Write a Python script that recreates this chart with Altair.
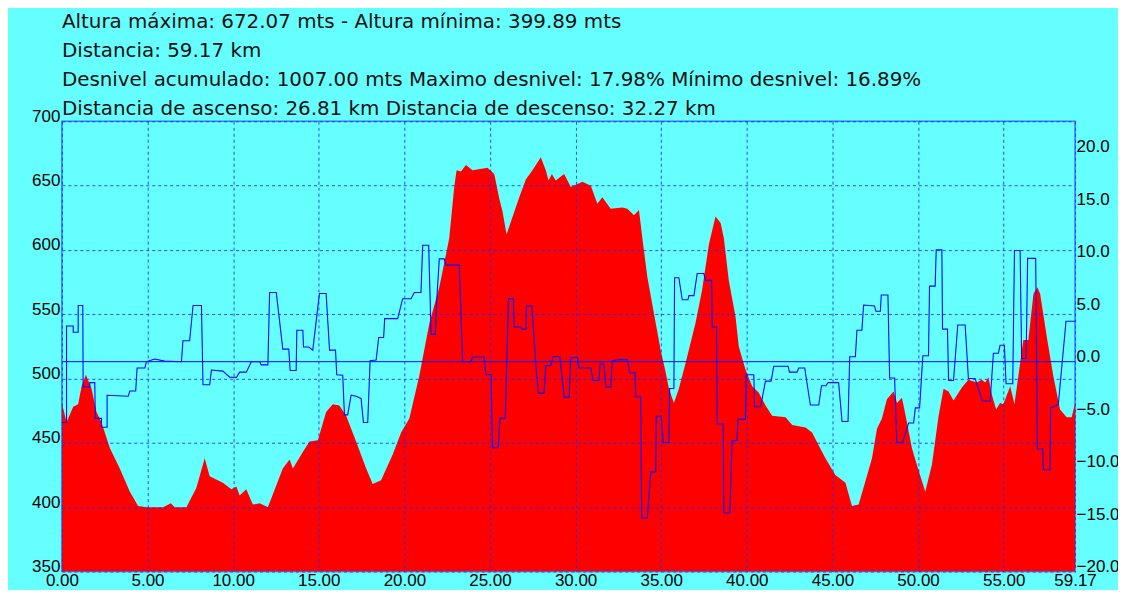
import altair as alt
import pandas as pd

# ---------------- data ----------------
header_lines = [
    "Altura máxima: 672.07 mts - Altura mínima: 399.89 mts",
    "Distancia: 59.17 km",
    "Desnivel acumulado: 1007.00 mts Maximo desnivel: 17.98% Mínimo desnivel: 16.89%",
    "Distancia de ascenso: 26.81 km Distancia de descenso: 32.27 km",
]

elev_km = [0, 0.27, 0.66, 0.95, 1.15, 1.4, 1.73, 2.02, 2.31, 2.8, 3.38, 3.97, 4.45, 4.94,
           5.91, 6.36, 6.59, 7.27, 7.85, 8.34, 8.63, 9.4, 9.9, 10.19, 10.38, 10.77, 11.15,
           11.55, 12.03, 12.9, 13.3, 13.49, 14.07, 14.46, 14.95, 15.43, 15.82, 16.2, 16.6,
           17.18, 17.77, 18.15, 18.64, 19.32, 19.81, 20.29, 20.87, 21.46, 22.04, 22.62,
           22.92, 23.05, 23.3, 23.6, 23.98, 24.86, 25.25, 25.54, 25.73, 25.97, 26.22, 26.71,
           27.1, 27.48, 27.97, 28.26, 28.42, 28.61, 28.84, 29.33, 29.72, 30.4, 30.89, 31.27,
           31.56, 32.05, 32.73, 33.02, 33.41, 33.7, 33.9, 34.19, 34.68, 34.97, 35.26, 35.45,
           35.74, 36.03, 36.42, 37.0, 37.39, 37.78, 38.17, 38.47, 38.66, 38.95, 39.34, 39.53,
           39.92, 40.31, 40.7, 41.09, 41.48, 42.26, 42.65, 43.43, 43.81, 44.2, 44.59, 45.17,
           45.76, 46.14, 46.53, 46.92, 47.31, 47.6, 47.89, 48.18, 48.57, 48.77, 49.06, 49.35,
           49.64, 49.93, 50.42, 50.81, 51.2, 51.49, 51.78, 52.07, 52.56, 52.94, 53.43, 53.72,
           53.92, 54.11, 54.3, 54.56, 54.79, 54.98, 55.38, 55.63, 55.96, 56.15, 56.44, 56.74,
           56.97, 57.13, 57.51, 57.9, 58.29, 58.68, 58.97, 59.17]
elev_m = [481, 466, 478, 480, 494, 503, 492, 474, 466, 446, 430, 412, 401, 400,
          400, 403, 400, 400, 415, 438, 424, 419, 414, 416, 409, 414, 402,
          403, 400, 430, 437, 430, 443, 451, 452, 474, 480, 479, 471,
          451, 430, 418, 421, 441, 458, 469, 502, 543, 571, 609,
          650, 662, 661, 666, 662, 664, 659, 640, 630, 612, 622, 641,
          655, 662, 672, 662, 654, 659, 654, 659, 649, 653, 650, 636,
          641, 632, 633, 632, 627, 631, 609, 579, 543, 522, 505, 492,
          481, 492, 512, 543, 569, 604, 626, 621, 609, 576, 548, 525,
          507, 494, 489, 479, 471, 470, 464, 462, 458, 448, 438, 425,
          419, 401, 402, 420, 438, 461, 469, 484, 490, 481, 485, 466,
          446, 433, 412, 433, 471, 492, 490, 483, 493, 499, 497, 499,
          497, 501, 488, 476, 481, 480, 494, 480, 512, 530, 530, 566,
          571, 566, 533, 502, 476, 470, 470, 481]

grad_km = [0, 0.27, 0.27, 0.66, 0.66, 0.95, 0.95, 1.22, 1.24, 1.63, 1.63, 1.92, 1.95, 2.31,
           2.31, 2.64, 2.64, 3.87, 3.97, 4.31, 4.39, 4.84, 4.94, 5.42, 6.0, 6.98, 7.07, 7.46,
           7.66, 8.15, 8.24, 8.63, 8.73, 9.4, 9.8, 10.19, 10.38, 10.77, 11.06, 11.55, 11.64,
           12.03, 12.13, 12.52, 12.9, 13.25, 13.33, 13.68, 13.72, 14.07, 14.11, 14.42, 14.65,
           15.04, 15.43, 15.63, 15.98, 16.05, 16.4, 16.5, 16.69, 16.89, 17.18, 17.47, 17.61,
           17.86, 18.0, 18.35, 18.5, 18.79, 18.85, 19.61, 19.9, 20.39, 20.58, 20.97, 21.07,
           21.42, 21.56, 21.81, 21.9, 22.04, 22.33, 22.43, 23.21, 23.4, 23.89, 23.98, 24.66,
           24.76, 25.06, 25.15, 25.48, 25.58, 25.89, 26.08, 26.37, 26.41, 26.8, 26.86, 27.1,
           27.13, 27.45, 27.68, 27.83, 28.16, 28.26, 28.55, 28.69, 29.08, 29.33, 29.62, 29.72,
           30.11, 30.2, 30.89, 31.02, 31.37, 31.43, 31.66, 31.76, 32.05, 32.15, 32.54, 33.02,
           33.16, 33.47, 33.51, 33.8, 33.86, 34.19, 34.39, 34.68, 34.71, 35.0, 35.12, 35.45,
           35.49, 35.74, 35.78, 36.03, 36.23, 36.56, 36.62, 36.91, 37.1, 37.49, 37.59, 37.94,
           37.98, 38.23, 38.27, 38.62, 38.66, 39.01, 39.14, 39.43, 39.48, 39.92, 39.96, 40.41,
           40.45, 40.8, 41.09, 41.42, 41.57, 42.41, 42.49, 42.93, 43.03, 43.38, 43.71, 44.2,
           44.36, 44.62, 44.74, 45.36, 45.56, 45.91, 46.01, 46.34, 46.43, 46.72, 46.82, 47.46,
           47.54, 47.8, 47.85, 48.24, 48.34, 48.63, 48.76, 49.1, 49.45, 49.74, 49.84, 50.09,
           50.28, 50.61, 50.67, 51.0, 51.06, 51.39, 51.43, 51.72, 51.78, 52.07, 52.32, 52.75,
           52.94, 53.33, 53.76, 54.21, 54.4, 54.69, 54.79, 55.04, 55.14, 55.53, 55.63, 55.96,
           56.05, 56.31, 56.4, 56.87, 56.97, 57.28, 57.32, 57.71, 57.74, 58.19, 58.64, 59.17]
grad_pct = [-5.8, -5.8, 3.4, 3.4, 2.8, 2.8, 5.35, 5.35, -2.4, -2.4, -2.0, -2.0, -5.4, -5.4,
            -6.25, -6.25, -3.2, -3.3, -2.8, -2.8, -0.6, -0.6, 0, 0.25, 0.05, 0, 2.0, 2.0,
            5.35, 5.35, -2.2, -2.2, -0.8, -0.9, -1.47, -1.5, -1.0, -1.0, 0, 0, -0.3,
            -0.3, 6.6, 6.6, 1.2, 1.2, -0.84, -0.84, 3.0, 3.0, 1.4, 1.4, 1.1,
            6.5, 6.5, 1.1, 1.1, -1.25, -1.3, -5.07, -5.07, -3.2, -3.3, -3.5, -5.8,
            -5.8, 0.1, 0.15, 2.3, 2.3, 4.1, 4.1, 6.0, 6.0, 6.6, 6.6, 11.1,
            11.1, 2.6, 2.6, 6.1, 9.8, 9.8, 9.2, 9.2, 0, 0, 0.45, 0.45,
            -1.25, -1.25, -8.2, -8.2, -5.4, -5.4, 6.0, 6.0, 3.3, 3.3, 3.1, 3.1,
            5.3, 5.3, -0.38, -3.0, -3.0, -0.38, -0.38, 0.5, 0.5, -3.4, -3.4, 0.4,
            0.4, -0.6, -0.6, -1.8, -1.8, -0.22, -0.22, -2.4, -2.4, 0.1, 0.2, 0.2,
            -1.06, -1.06, -3.35, -3.35, -14.9, -14.9, -10.5, -10.5, -5.2, -5.2, -7.7, -7.7,
            -2.56, -2.56, 8.0, 8.0, 5.9, 5.9, 6.3, 6.3, 8.4, 8.4, 7.75, 7.75,
            3.3, 3.3, -5.94, -5.94, -14.4, -14.4, -7.57, -7.5, -5.5, -5.5, -1.25, -1.25,
            -4.3, -4.3, -1.85, -1.85, -0.44, -0.44, -1.0, -1.0, -0.6, -0.6, -4.13, -4.13,
            -2.3, -2.3, -2.0, -2.0, -5.7, -5.7, 0.47, 0.47, 3.0, 3.0, 5.4, 5.3,
            4.8, 4.8, 6.35, 6.35, -1.56, -1.56, -7.7, -7.7, -5.84, -5.84, -4.4, -4.4,
            0.56, 0.56, 7.2, 7.2, 10.66, 10.66, 3.1, 3.1, -1.8, -1.8, 3.5, 3.5,
            -1.6, -1.6, -3.75, -3.75, 0.8, 0.8, 1.56, 1.56, -2.1, -2.1, 10.6, 10.6,
            0.3, 0.3, 9.85, 9.85, -8.3, -8.3, -10.3, -10.3, -4.4, -4.1, 3.85, 3.85]

x_ticks = [0, 5, 10, 15, 20, 25, 30, 35, 40, 45, 50, 55, 59.17]
left_ticks = [350, 400, 450, 500, 550, 600, 650, 700]
right_ticks = [-20, -15, -10, -5, 0, 5, 10, 15, 20]

# ---------------- chart ----------------
FONT = "Liberation Sans"
HEAD_FONT = "DejaVu Sans"
GRID = "#1f2cff"

elev_df = pd.DataFrame({"km": elev_km, "alt": elev_m})
grad_df = pd.DataFrame({"km": grad_km, "pct": grad_pct, "i": list(range(len(grad_km)))})

x_scale = alt.Scale(domain=[0, 59.17], nice=False, zero=False)
x_axis = alt.Axis(values=x_ticks, format=".2f", title=None, grid=True, gridColor=GRID,
                  gridDash=[3, 3], gridWidth=1, gridOpacity=0.85, domain=False, tickSize=0,
                  labelFont=FONT, labelFontSize=17, labelColor="black", labelPadding=1,
                  labelFlush=False, labelOverlap=False, zindex=1)

left_axis = alt.Axis(values=left_ticks, format="d", title=None, grid=True, gridColor=GRID,
                     gridDash=[3, 3], gridWidth=1, gridOpacity=0.85, domain=False, tickSize=0,
                     labelFont=FONT, labelFontSize=17, labelColor="black", labelPadding=2,
                     labelBaseline="alphabetic", labelAlign="right", labelFlush=False,
                     labelOverlap=False, zindex=1)

right_axis = alt.Axis(values=right_ticks, format=".1f", title=None, grid=False, domain=False,
                      orient="right", tickSize=0, labelFont=FONT, labelFontSize=17,
                      labelColor="black", labelPadding=1, labelBaseline="alphabetic",
                      labelAlign="left", labelFlush=False, labelOverlap=False)

grad_scale = alt.Scale(domain=[-20, 22.91], nice=False, zero=False)

area = alt.Chart(elev_df).mark_area(color="#ff0000", clip=True).encode(
    x=alt.X("km:Q", scale=x_scale, axis=x_axis),
    y=alt.Y("alt:Q", scale=alt.Scale(domain=[350, 700], nice=False, zero=False), axis=left_axis),
    y2=alt.datum(350),
)

line = alt.Chart(grad_df).mark_line(color="#0a0aff", strokeWidth=1.1, clip=True).encode(
    x=alt.X("km:Q", scale=x_scale),
    y=alt.Y("pct:Q", scale=grad_scale, axis=right_axis),
    order=alt.Order("i:Q"),
)

zero_rule = alt.Chart(pd.DataFrame({"v": [0]})).mark_rule(color="#0a0aff", strokeWidth=1).encode(
    y=alt.Y("v:Q", scale=grad_scale, axis=None),
)

header = alt.Chart(pd.DataFrame({"t": [0]})).mark_text(
    align="left", baseline="alphabetic", font=HEAD_FONT, fontSize=19.9, lineHeight=29,
    color="#111111"
).encode(
    x=alt.value(0),
    y=alt.value(-93),
    text=alt.value(header_lines),
)

chart = alt.layer(area, line, zero_rule, header).resolve_scale(y="independent").properties(
    width=1015,
    height=451,
    autosize=alt.AutoSizeParams(type="none"),
    padding={"left": 54, "top": 113, "right": 43, "bottom": 18},
    background="#66ffff",
).configure_view(stroke="#3a7bff", strokeWidth=1.6)

chart.save("out.html", embed_options={"renderer": "svg", "actions": False})
